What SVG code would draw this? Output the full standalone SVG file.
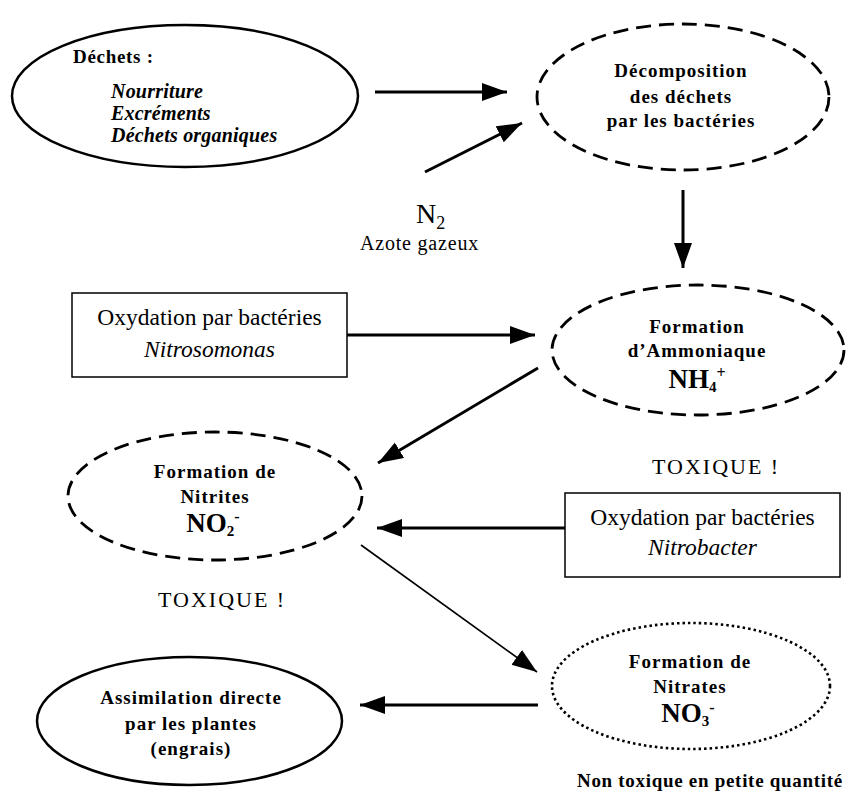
<svg xmlns="http://www.w3.org/2000/svg" width="855" height="796" viewBox="0 0 855 796">
<style>
  .bg { fill: #ffffff; }
  .solid { fill: none; stroke: #000; stroke-width: 2.5; }
  .dashed { fill: none; stroke: #000; stroke-width: 2.8; stroke-dasharray: 15 8; }
  .dotted { fill: none; stroke: #000; stroke-width: 2.6; stroke-dasharray: 2.5 3; }
  .box { fill: #fff; stroke: #000; stroke-width: 1.5; }
  .t { font-family: "Liberation Serif", "Times New Roman", serif; fill: #000; }
  .eb { font-size: 19px; font-weight: bold; letter-spacing: 1px; text-anchor: middle; }
  .bi { font-size: 20px; font-weight: bold; font-style: italic; letter-spacing: 0.2px; }
  .chem { font-size: 27px; font-weight: bold; text-anchor: middle; }
  .box-t { font-size: 23.5px; text-anchor: middle; }
  .tox { font-size: 22px; letter-spacing: 2px; }
  .arrow { stroke: #000; stroke-width: 3; fill: none; }
  .thin { stroke: #000; stroke-width: 1.6; fill: none; }
</style>
<defs>
  <marker id="head" markerUnits="userSpaceOnUse" markerWidth="26" markerHeight="20" refX="25" refY="9" orient="auto">
    <path d="M0,0 L25,9 L0,18 Z" fill="#000"/>
  </marker>
</defs>
<rect class="bg" x="0" y="0" width="855" height="796"/>

<g id="connectors">
  <line class="arrow" x1="375" y1="92" x2="507" y2="92" marker-end="url(#head)"/>
  <line class="arrow" x1="425" y1="172" x2="522" y2="123" marker-end="url(#head)"/>
  <line class="arrow" x1="683" y1="190" x2="683" y2="268" marker-end="url(#head)"/>
  <line class="arrow" x1="347" y1="335" x2="535" y2="335" marker-end="url(#head)"/>
  <line class="arrow" x1="538" y1="368" x2="378" y2="463" marker-end="url(#head)"/>
  <line class="arrow" x1="565" y1="528" x2="377" y2="528" marker-end="url(#head)"/>
  <line class="thin" x1="361" y1="545" x2="537" y2="672" marker-end="url(#head)"/>
  <line class="arrow" x1="538" y1="705" x2="360" y2="705" marker-end="url(#head)"/>
</g>

<g id="dechets">
  <ellipse class="solid" cx="185" cy="96" rx="173" ry="71"/>
  <text class="t" x="73" y="63" font-size="19" font-weight="bold" letter-spacing="0.7">Déchets :</text>
  <text class="t bi" x="111" y="98">Nourriture</text>
  <text class="t bi" x="111" y="120">Excréments</text>
  <text class="t bi" x="111" y="142">Déchets organiques</text>
</g>

<g id="decomposition">
  <ellipse class="dashed" cx="683" cy="97" rx="146" ry="73"/>
  <text class="t eb" x="681" y="77">Décomposition</text>
  <text class="t eb" x="681" y="103">des déchets</text>
  <text class="t eb" x="681" y="127">par les bactéries</text>
</g>

<g id="azote">
  <text class="t" x="416" y="223" font-size="28">N<tspan font-size="18" dy="6">2</tspan></text>
  <text class="t" x="360" y="250" font-size="20" letter-spacing="0.8">Azote gazeux</text>
</g>

<g id="nitrosomonas">
  <rect class="box" x="72" y="293" width="275" height="84"/>
  <text class="t box-t" x="209.5" y="325">Oxydation par bactéries</text>
  <text class="t box-t" x="209.5" y="357" font-style="italic">Nitrosomonas</text>
</g>

<g id="ammoniaque">
  <ellipse class="dashed" cx="698" cy="350" rx="146" ry="65"/>
  <text class="t eb" x="697" y="333">Formation</text>
  <text class="t eb" x="697" y="357">d’Ammoniaque</text>
  <text class="t chem" x="697" y="388">NH<tspan font-size="15" dy="4">4</tspan><tspan font-size="16" dy="-14">+</tspan></text>
  <text class="t tox" x="652" y="474">TOXIQUE !</text>
</g>

<g id="nitrites">
  <ellipse class="dashed" cx="215" cy="496" rx="147" ry="64"/>
  <text class="t eb" x="215" y="478">Formation de</text>
  <text class="t eb" x="215" y="503">Nitrites</text>
  <text class="t chem" x="213" y="532">NO<tspan font-size="15" dy="4">2</tspan><tspan font-size="16" dy="-14">-</tspan></text>
  <text class="t tox" x="158" y="607">TOXIQUE !</text>
</g>

<g id="nitrobacter">
  <rect class="box" x="565" y="493" width="275" height="84"/>
  <text class="t box-t" x="702.5" y="525">Oxydation par bactéries</text>
  <text class="t box-t" x="702.5" y="555" font-style="italic">Nitrobacter</text>
</g>

<g id="nitrates">
  <ellipse class="dotted" cx="691" cy="686" rx="139" ry="63"/>
  <text class="t eb" x="690" y="668">Formation de</text>
  <text class="t eb" x="690" y="693">Nitrates</text>
  <text class="t chem" x="688" y="722">NO<tspan font-size="15" dy="4">3</tspan><tspan font-size="16" dy="-13">-</tspan></text>
  <text class="t" x="577" y="787" font-size="19" font-weight="bold" letter-spacing="0.7">Non toxique en petite quantité</text>
</g>

<g id="assimilation">
  <ellipse class="solid" cx="189.5" cy="721" rx="152.5" ry="64"/>
  <text class="t eb" x="191" y="704">Assimilation directe</text>
  <text class="t eb" x="191" y="730">par les plantes</text>
  <text class="t eb" x="191" y="755">(engrais)</text>
</g>
</svg>
